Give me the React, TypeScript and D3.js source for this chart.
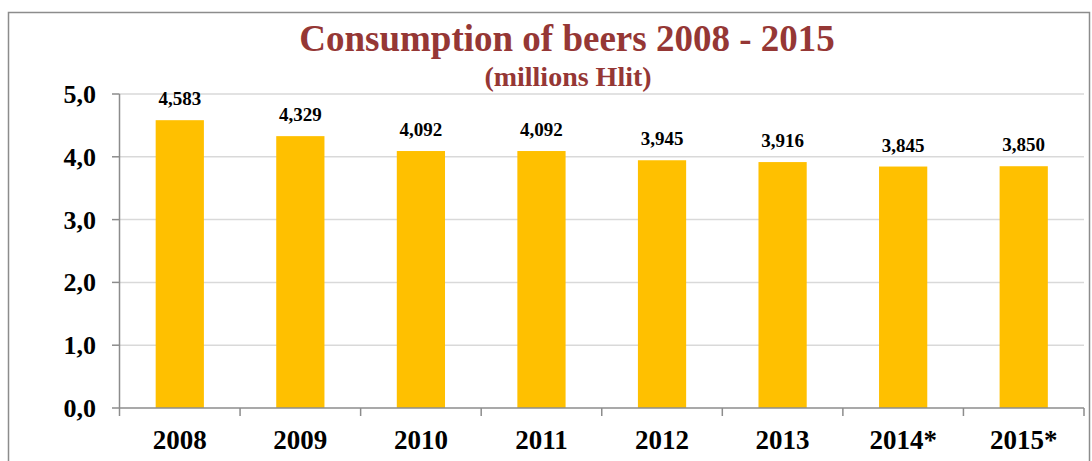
import React from "react";
import * as d3 from "d3";

const categories = ["2008", "2009", "2010", "2011", "2012", "2013", "2014*", "2015*"];
const values = [4.583, 4.329, 4.092, 4.092, 3.945, 3.916, 3.845, 3.85];
const yTicks = [0, 1, 2, 3, 4, 5];

const W = 1092;
const H = 461;
const FONT = "'Liberation Serif', 'Times New Roman', serif";

export default function App() {
  const left = 119.5;
  const right = 1084;
  const top = 94;
  const bottom = 408;

  const x = d3.scaleBand<string>().domain(categories).range([left, right]).padding(0);
  const y = d3.scaleLinear().domain([0, 5]).range([bottom, top]);
  const bw = x.bandwidth() * 0.4;
  const fmt = (v: number) => v.toFixed(3).replace(".", ",");
  const fmtTick = (v: number) => v.toFixed(1).replace(".", ",");
  const txt = { fontFamily: FONT, fontWeight: 700 } as React.CSSProperties;

  return (
    <svg
      width={W}
      height={H}
      style={{ position: "absolute", left: 0, top: 0, background: "#fff" }}
    >
      <rect x={8.5} y={12.5} width={1081} height={470} fill="#fff" stroke="#8c8c8c" strokeWidth={1.5} />
      <text x={567} y={51} textAnchor="middle" style={{ ...txt, fontSize: 37 }} fill="#953735">
        Consumption of beers 2008 - 2015
      </text>
      <text x={568} y={86} textAnchor="middle" style={{ ...txt, fontSize: 28 }} fill="#953735">
        (millions Hlit)
      </text>
      {yTicks.map((t) =>
        t > 0 ? (
          <line key={"g" + t} x1={left} x2={right} y1={y(t)} y2={y(t)} stroke="#d9d9d9" strokeWidth={1.5} />
        ) : null
      )}
      {categories.map((c, i) => {
        const cx = x(c)! + x.bandwidth() / 2;
        return (
          <g key={c}>
            <rect x={cx - bw / 2} y={y(values[i])} width={bw} height={bottom - y(values[i])} fill="#ffc000" />
            <text x={cx} y={y(values[i]) - 15} textAnchor="middle" style={{ ...txt, fontSize: 19 }} fill="#000">
              {fmt(values[i])}
            </text>
            <text x={cx} y={449} textAnchor="middle" style={{ ...txt, fontSize: 27 }} fill="#000">
              {c}
            </text>
          </g>
        );
      })}
      <line x1={left} x2={left} y1={top} y2={bottom} stroke="#8c8c8c" strokeWidth={1.5} />
      <line x1={left} x2={right} y1={bottom} y2={bottom} stroke="#8c8c8c" strokeWidth={1.5} />
      {yTicks.map((t) => (
        <g key={"t" + t}>
          <line x1={112} x2={left} y1={y(t)} y2={y(t)} stroke="#8c8c8c" strokeWidth={1.5} />
          <text x={96} y={y(t) + 9} textAnchor="end" style={{ ...txt, fontSize: 26 }} fill="#000">
            {fmtTick(t)}
          </text>
        </g>
      ))}
      {[...categories.map((c) => x(c)!), right].map((xx, i) => (
        <line key={"xt" + i} x1={xx} x2={xx} y1={bottom} y2={bottom + 8} stroke="#8c8c8c" strokeWidth={1.5} />
      ))}
    </svg>
  );
}
